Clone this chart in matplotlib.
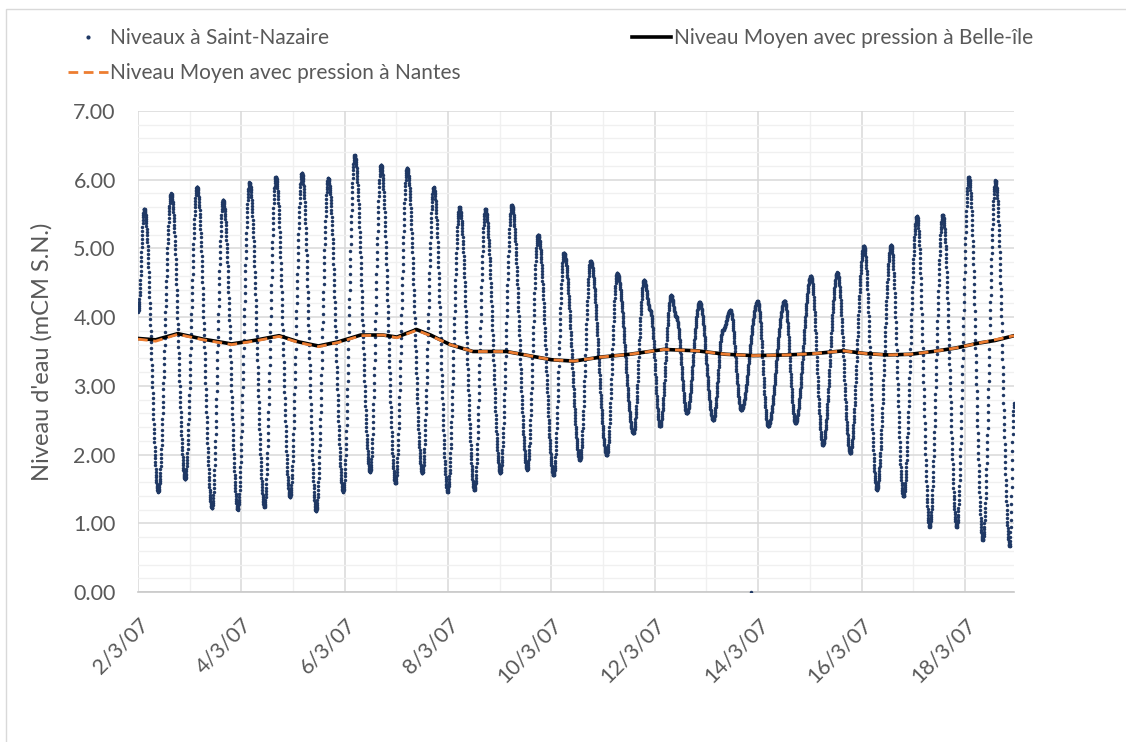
import numpy as np
import pandas as pd
import matplotlib
matplotlib.use("Agg")
import matplotlib.pyplot as plt
import matplotlib.dates as mdates
from matplotlib.ticker import MultipleLocator, FixedLocator, FuncFormatter
from matplotlib.lines import Line2D
from matplotlib.patches import Rectangle

plt.rcParams['font.family'] = ['Lato', 'DejaVu Sans']

START = pd.Timestamp("2007-03-02")
END_DAY = 16.95          # last record, days after 2/3/07 00:00
STEP_MIN = 5             # gauge sampling interval (minutes)

# high / low waters (and a few shoulders) at Saint-Nazaire
# time in days after 2/3/07 00:00, level in m CM
tide_days = [0.00, 0.12, 0.39, 0.64, 0.91, 1.14, 1.43, 1.645, 1.93, 2.155,
             2.445, 2.665, 2.94, 3.17, 3.445, 3.68, 3.97, 4.19, 4.49, 4.70,
             4.98, 5.205, 5.50, 5.72, 5.99, 6.22, 6.51, 6.72, 7.01, 7.23,
             7.53, 7.74, 8.04, 8.24, 8.55, 8.755, 9.07, 9.27, 9.585, 9.79,
             9.91, 10.10, 10.315, 10.41, 10.62, 10.865, 11.13, 11.315, 11.46, 11.67,
             11.99, 12.19, 12.51, 12.72, 13.02, 13.25, 13.53, 13.78, 14.045, 14.295,
             14.57, 14.81, 15.07, 15.315, 15.57, 15.84, 16.075, 16.345, 16.59, 16.865,
             16.95]
tide_levels = [4.08, 5.58, 1.46, 5.80, 1.64, 5.90, 1.22, 5.71, 1.20, 5.96,
               1.24, 6.04, 1.38, 6.10, 1.18, 6.02, 1.46, 6.36, 1.75, 6.22,
               1.58, 6.17, 1.73, 5.89, 1.46, 5.60, 1.48, 5.58, 1.73, 5.63,
               1.78, 5.20, 1.70, 4.94, 1.92, 4.82, 1.99, 4.64, 2.31, 4.54,
               4.10, 2.41, 4.32, 4.01, 2.60, 4.22, 2.50, 3.81, 4.10, 2.65,
               4.23, 2.41, 4.24, 2.46, 4.60, 2.14, 4.65, 2.02, 5.04, 1.49,
               5.05, 1.39, 5.47, 0.95, 5.49, 0.95, 6.04, 0.76, 5.99, 0.67,
               2.75]

# one faulty record at 0
bad_days = [11.86]
bad_levels = [0.00]

# mean level corrected with pressure at Belle-île
belle_days = [0.0, 0.34, 0.77, 1.26, 1.81, 2.24, 2.73, 3.11, 3.49, 3.87,
              4.31, 4.74, 5.01, 5.39, 5.66, 6.04, 6.48, 7.13, 7.56, 8.00,
              8.43, 8.97, 9.52, 10.17, 10.82, 11.37, 11.91, 12.56, 13.10, 13.65,
              14.08, 14.51, 14.95, 15.38, 15.82, 16.25, 16.58, 16.95]
belle_levels = [3.69, 3.67, 3.76, 3.68, 3.61, 3.66, 3.73, 3.64, 3.58, 3.64,
                3.74, 3.74, 3.71, 3.82, 3.74, 3.60, 3.50, 3.50, 3.44, 3.38,
                3.36, 3.42, 3.46, 3.53, 3.51, 3.46, 3.44, 3.45, 3.47, 3.51,
                3.47, 3.45, 3.46, 3.50, 3.55, 3.62, 3.66, 3.73]

# mean level corrected with pressure at Nantes
nantes_days = belle_days
nantes_levels = [3.68, 3.65, 3.75, 3.67, 3.60, 3.65, 3.72, 3.63, 3.57, 3.63,
                 3.73, 3.74, 3.70, 3.81, 3.73, 3.60, 3.50, 3.50, 3.44, 3.38,
                 3.36, 3.42, 3.46, 3.53, 3.51, 3.46, 3.44, 3.45, 3.47, 3.51,
                 3.47, 3.45, 3.46, 3.50, 3.55, 3.62, 3.67, 3.73]


def tide_curve(t, knots_t, knots_h):
    # half-cosine between successive high and low waters
    knots_t = np.asarray(knots_t)
    knots_h = np.asarray(knots_h)
    i = np.clip(np.searchsorted(knots_t, t, side='right') - 1, 0, len(knots_t) - 2)
    u = (t - knots_t[i]) / (knots_t[i + 1] - knots_t[i])
    return knots_h[i] + (knots_h[i + 1] - knots_h[i]) * (1 - np.cos(np.pi * u)) / 2


t0 = mdates.date2num(START)
t = np.arange(0, END_DAY + 1e-9, STEP_MIN / 1440)
levels = tide_curve(t, tide_days, tide_levels)

fig = plt.figure(figsize=(11.26, 7.42), dpi=100)
ax = fig.add_axes([138 / 1126, 1 - 592 / 742, 876 / 1126, 481 / 742])

dot_color = '#1F3864'
ax.plot(t0 + t, levels, 'o', ms=2.5, color=dot_color, mec='none', zorder=3)
ax.plot(t0 + np.array(bad_days), bad_levels, 'o', ms=2.5, color=dot_color, mec='none', zorder=3)
ax.plot(t0 + np.array(belle_days), belle_levels, '-', color='black', lw=2.6, zorder=4)
ax.plot(t0 + np.array(nantes_days), nantes_levels, color='#ED7D31', lw=2.0,
        dashes=(3.5, 2), zorder=5)

ax.set_xlim(t0, t0 + END_DAY)
ax.set_ylim(0, 7)

ax.xaxis.set_major_locator(FixedLocator(t0 + np.arange(0, 17, 2)))
ax.xaxis.set_minor_locator(FixedLocator(t0 + np.arange(0, 17, 1)))
ax.xaxis.set_major_formatter(FuncFormatter(
    lambda x, pos: (lambda d: f"{d.day}/{d.month}/{d:%y}")(mdates.num2date(x))))
ax.yaxis.set_major_locator(MultipleLocator(1))
ax.yaxis.set_minor_locator(MultipleLocator(0.2))
ax.yaxis.set_major_formatter(FuncFormatter(lambda y, pos: f"{y:.2f}"))

ax.grid(True, which='major', color='#D9D9D9', lw=1.1, zorder=0)
ax.grid(True, which='minor', color='#F0F0F0', lw=1.0, zorder=0)
ax.set_axisbelow(True)

for side in ['top', 'right', 'left']:
    ax.spines[side].set_visible(False)
ax.spines['bottom'].set_color('#C8C8C8')
ax.spines['bottom'].set_linewidth(1.2)

ax.tick_params(which='both', length=0, colors='#595959', labelsize=15.5)
ax.tick_params(axis='y', pad=16)
ax.tick_params(axis='x', pad=16)
for lab in ax.get_xticklabels():
    lab.set_rotation(45)
    lab.set_ha('right')
    lab.set_va('top')
    lab.set_rotation_mode('anchor')

ax.set_ylabel("Niveau d'eau (mCM S.N.)", fontsize=17, color='#595959')
ax.yaxis.set_label_coords(-0.098, 0.5)

handles = [
    Line2D([], [], ls='none', marker='o', ms=3, color=dot_color, mec='none'),
    Line2D([], [], color='#ED7D31', lw=2.0, dashes=(3.5, 2)),
    Line2D([], [], color='black', lw=2.6),
]
labels = ['Niveaux à Saint-Nazaire',
          'Niveau Moyen avec pression à Nantes',
          'Niveau Moyen avec pression à Belle-île']
fig.legend(handles, labels, ncol=2, loc='upper left',
           bbox_to_anchor=(68 / 1126, 1 - 28 / 742), frameon=False,
           fontsize=15, labelcolor='#595959', handlelength=1.9,
           handletextpad=0.12, columnspacing=8.2, labelspacing=0.72,
           borderpad=0, borderaxespad=0)

fig.add_artist(Rectangle((6 / 1126, -0.05), 1.0, 1.05 - 9 / 742,
                         transform=fig.transFigure, fill=False,
                         ec='#D9D9D9', lw=1.0))

fig.savefig('out.png', dpi=100)
